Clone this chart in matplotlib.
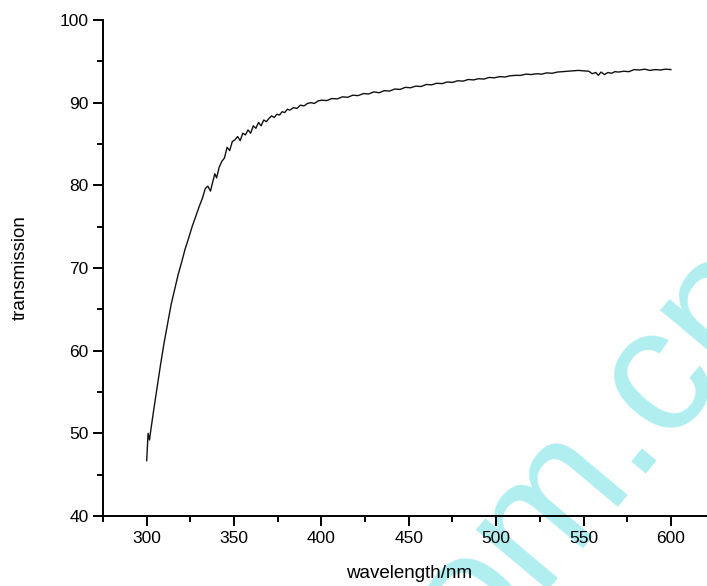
import matplotlib
matplotlib.use('Agg')
import matplotlib.pyplot as plt
from matplotlib.ticker import MultipleLocator

plt.rcParams['font.family'] = ['Liberation Sans', 'DejaVu Sans']

wavelength = [300, 300.8, 301.6, 302.5, 304, 306, 308, 310, 312, 314, 316, 318, 320, 322, 324,
              326, 328, 330, 332, 333.5, 335, 336.5, 338, 339, 340, 341.5, 343, 344.5, 346,
              347.5, 349, 350.5, 352, 353.5, 355, 356.5, 358, 359.5, 361, 362.5, 364, 365.5,
              367, 368.5, 370, 371.5, 373, 374.5, 376, 377.5, 379, 380.5, 382, 384, 386, 388,
              390, 392, 394, 396, 398, 400, 403, 406, 409, 412, 415, 418, 421, 424, 427, 430,
              433, 436, 439, 442, 445, 448, 451, 454, 457, 460, 463, 466, 469, 472, 475, 478,
              481, 484, 487, 490, 493, 496, 499, 502, 505, 508, 511, 514, 517, 520, 523, 526,
              529, 532, 535, 538, 541, 544, 547, 550, 553, 555, 557, 558.5, 560, 562, 564, 566,
              568, 570, 573, 576, 579, 582, 585, 588, 591, 594, 597, 600]
transmission = [46.7, 50.0, 49.2, 50.6, 52.8, 55.6, 58.4, 61.0, 63.3, 65.6, 67.4, 69.2, 70.7,
                72.3, 73.6, 75.0, 76.2, 77.4, 78.5, 79.6, 79.9, 79.3, 80.6, 81.4, 80.9, 82.2,
                82.9, 83.3, 84.6, 84.2, 85.3, 85.5, 85.9, 85.4, 86.3, 86.1, 86.7, 86.3, 87.2,
                86.9, 87.6, 87.2, 87.9, 87.7, 88.1, 88.4, 88.2, 88.6, 88.5, 88.9, 88.8, 89.2,
                89.1, 89.4, 89.3, 89.7, 89.6, 89.9, 90.0, 89.9, 90.2, 90.3, 90.25, 90.5, 90.45,
                90.7, 90.65, 90.9, 90.85, 91.1, 91.05, 91.3, 91.2, 91.45, 91.4, 91.65, 91.6,
                91.85, 91.8, 92.0, 91.95, 92.2, 92.15, 92.35, 92.3, 92.5, 92.45, 92.65, 92.6,
                92.8, 92.75, 92.9, 92.85, 93.05, 93.0, 93.15, 93.1, 93.25, 93.3, 93.3, 93.45,
                93.4, 93.5, 93.45, 93.6, 93.55, 93.7, 93.75, 93.8, 93.85, 93.9, 93.85, 93.8,
                93.5, 93.65, 93.3, 93.7, 93.4, 93.65, 93.55, 93.75, 93.7, 93.8, 93.75, 94.0,
                93.95, 94.05, 93.9, 94.0, 93.95, 94.05, 94.0]

fig = plt.figure(figsize=(7.07, 5.86), dpi=100)
ax = fig.add_axes([0.1457, 0.1195, 0.865, 0.8464])
ax.patch.set_visible(False)

ax.plot(wavelength, transmission, color='#111111', linewidth=1.0)

ax.set_xlim(275, 625)
ax.set_ylim(40, 100)
ax.xaxis.set_minor_locator(MultipleLocator(25))
ax.yaxis.set_major_locator(MultipleLocator(10))
ax.yaxis.set_minor_locator(MultipleLocator(5))
ax.set_xticks([300, 350, 400, 450, 500, 550, 600])

ax.spines['top'].set_visible(False)
ax.spines['right'].set_visible(False)
for s in ['left', 'bottom']:
    ax.spines[s].set_linewidth(1.4)
ax.tick_params(which='major', direction='out', length=7, width=1.4, labelsize=12.5)
ax.tick_params(which='minor', direction='out', length=4, width=1.4)

ax.set_xlabel('wavelength/nm', fontsize=13.5, labelpad=14)
ax.set_ylabel('transmission', fontsize=13.5, labelpad=22)

# watermark, under the axes
fig.text(0.842, 0.226, 'om.cn', rotation=50, fontsize=128, color='#b0eef0',
         ha='center', va='center', zorder=-1)

fig.savefig('out.png', dpi=100)
